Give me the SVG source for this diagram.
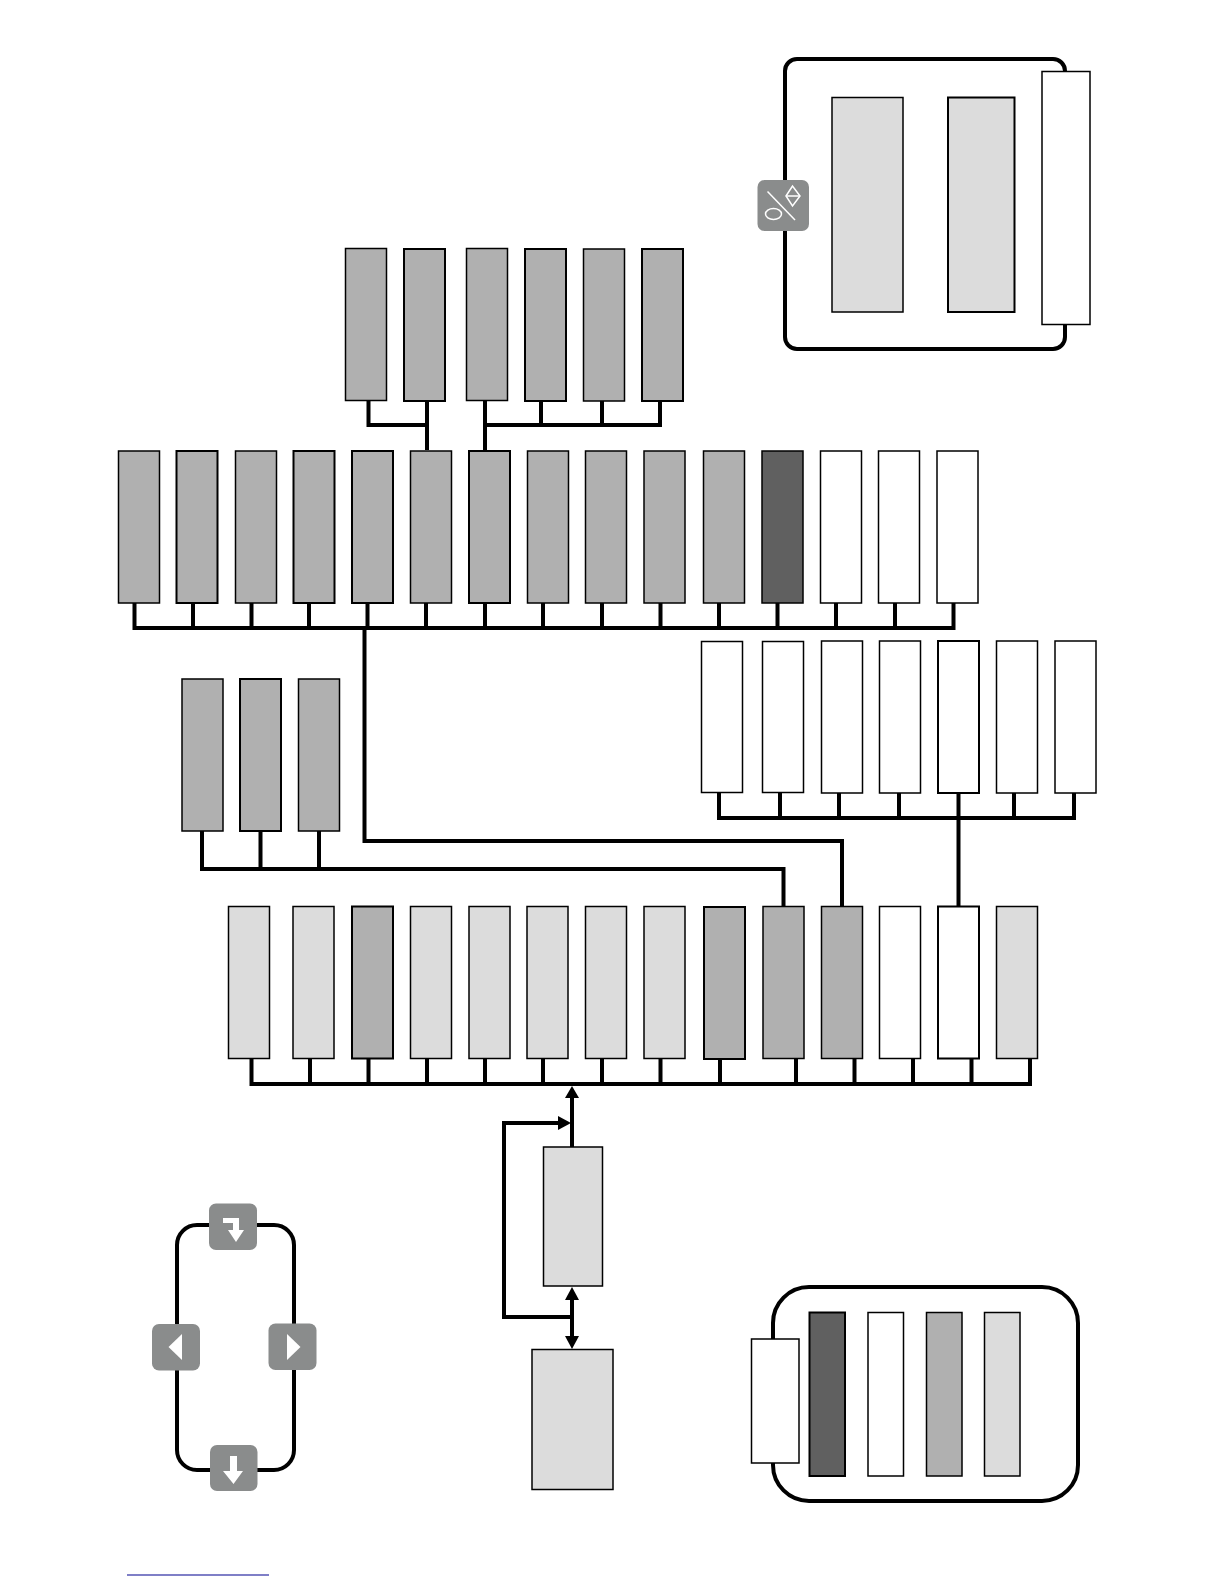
<svg xmlns="http://www.w3.org/2000/svg" width="1224" height="1584" viewBox="0 0 1224 1584">
<style>
.n{stroke:#000;stroke-width:1.5}
.k{stroke-width:2}
.w{fill:#fff}.l{fill:#dcdcdc}.g{fill:#b0b0b0}.d{fill:#606060}
.c{fill:none;stroke:#000;stroke-width:4}
.f{fill:#000}
.b{fill:#8a8c8c}
.i{fill:#fff}
.o{fill:none;stroke:#fff;stroke-width:1.5}
.p{fill:#fff;stroke:#000;stroke-width:4}
</style>
<rect width="1224" height="1584" fill="#fff"/>
<g id="containers">
<rect id="container-top" class="p" x="785" y="59" width="280" height="290" rx="12"/>
<rect id="container-left" class="p" x="177" y="1225" width="117" height="245" rx="20"/>
<rect id="container-bottom" class="p" x="773" y="1287" width="305" height="214" rx="36"/>
</g>
<g id="connectors">
<path class="c" d="M368.500 401V425H427M427 401V450M485 401V450M485 425H660V401M541 401V425M602 401V425"/>
<path class="c" d="M134.500 603V628H953.500V603M193 603V628M251.500 603V628M309 603V628M367.500 603V628M426 603V628M485 603V628M543 603V628M602 603V628M660.500 603V628M719 603V628M777.500 603V628M836 603V628M895 603V628"/>
<path class="c" d="M364.500 628V841H842V906"/>
<path class="c" d="M202 831V869H783.500V906M260.500 831V869M319 831V869"/>
<path class="c" d="M719 793V818H1074V793M780 793V818M839 793V818M899 793V818M1014 793V818"/>
<path class="c" d="M958.500 793V906" stroke-width="5"/>
<path class="c" d="M251.500 1058V1084H1030V1058M310 1058V1084M368.500 1058V1084M427 1058V1084M485 1058V1084M543 1058V1084M602 1058V1084M660.500 1058V1084M720 1058V1084M796 1058V1084M854.500 1058V1084M913 1058V1084M971.500 1058V1084"/>
<path class="c" d="M572 1095V1147"/>
<path class="c" d="M572 1298V1338"/>
<path class="c" d="M558 1123H504V1317H572"/>
<path class="f" d="M572 1086L579 1098H565Z"/>
<path class="f" d="M571 1123L558 1116V1130Z"/>
<path class="f" d="M572 1287L579 1300H565Z"/>
<path class="f" d="M572 1349L579 1336H565Z"/>
</g>
<g id="top-row">
<rect id="t1" class="n g" x="345.500" y="248.500" width="41" height="152"/>
<rect id="t2" class="n k g" x="404" y="249" width="41" height="152"/>
<rect id="t3" class="n g" x="466.500" y="248.500" width="41" height="152"/>
<rect id="t4" class="n k g" x="525" y="249" width="41" height="152"/>
<rect id="t5" class="n g" x="583.500" y="249" width="41" height="152"/>
<rect id="t6" class="n k g" x="642" y="249" width="41" height="152"/>
</g>
<g id="second-row">
<rect id="s1" class="n g" x="118.500" y="451" width="41" height="152"/>
<rect id="s2" class="n k g" x="176.500" y="451" width="41" height="152"/>
<rect id="s3" class="n g" x="235.500" y="451" width="41" height="152"/>
<rect id="s4" class="n k g" x="293.500" y="451" width="41" height="152"/>
<rect id="s5" class="n k g" x="352" y="451" width="41" height="152"/>
<rect id="s6" class="n g" x="410.500" y="451" width="41" height="152"/>
<rect id="s7" class="n k g" x="469" y="451" width="41" height="152"/>
<rect id="s8" class="n g" x="527.500" y="451" width="41" height="152"/>
<rect id="s9" class="n g" x="585.500" y="451" width="41" height="152"/>
<rect id="s10" class="n g" x="644" y="451" width="41" height="152"/>
<rect id="s11" class="n g" x="703.500" y="451" width="41" height="152"/>
<rect id="s12" class="n d" x="762" y="451" width="41" height="152"/>
<rect id="s13" class="n w" x="820.500" y="451" width="41" height="152"/>
<rect id="s14" class="n w" x="878.500" y="451" width="41" height="152"/>
<rect id="s15" class="n w" x="937" y="451" width="41" height="152"/>
</g>
<g id="left-row">
<rect id="l1" class="n g" x="182" y="679" width="41" height="152"/>
<rect id="l2" class="n k g" x="240" y="679" width="41" height="152"/>
<rect id="l3" class="n g" x="298.500" y="679" width="41" height="152"/>
</g>
<g id="right-row">
<rect id="r1" class="n w" x="701.500" y="641.500" width="41" height="151"/>
<rect id="r2" class="n w" x="762.500" y="641.500" width="41" height="151"/>
<rect id="r3" class="n w" x="821.500" y="641" width="41" height="152"/>
<rect id="r4" class="n w" x="879.500" y="641" width="41" height="152"/>
<rect id="r5" class="n k w" x="938" y="641" width="41" height="152"/>
<rect id="r6" class="n w" x="996.500" y="641" width="41" height="152"/>
<rect id="r7" class="n w" x="1055" y="641" width="41" height="152"/>
</g>
<g id="bottom-row">
<rect id="b1" class="n l" x="228.500" y="906.500" width="41" height="152"/>
<rect id="b2" class="n l" x="293" y="906.500" width="41" height="152"/>
<rect id="b3" class="n k g" x="352" y="906.500" width="41" height="152"/>
<rect id="b4" class="n l" x="410.500" y="906.500" width="41" height="152"/>
<rect id="b5" class="n l" x="469" y="906.500" width="41" height="152"/>
<rect id="b6" class="n l" x="527" y="906.500" width="41" height="152"/>
<rect id="b7" class="n l" x="585.500" y="906.500" width="41" height="152"/>
<rect id="b8" class="n l" x="644" y="906.500" width="41" height="152"/>
<rect id="b9" class="n k g" x="704" y="907" width="41" height="152"/>
<rect id="b10" class="n g" x="763" y="906.500" width="41" height="152"/>
<rect id="b11" class="n g" x="821.500" y="906.500" width="41" height="152"/>
<rect id="b12" class="n w" x="879.500" y="906.500" width="41" height="152"/>
<rect id="b13" class="n k w" x="938" y="906.500" width="41" height="152"/>
<rect id="b14" class="n l" x="996.500" y="906.500" width="41" height="152"/>
</g>
<g id="centre">
<rect id="c1" class="n l" x="543.500" y="1147" width="59" height="139"/>
<rect id="c2" class="n l" x="532" y="1349.500" width="81" height="140"/>
</g>
<g id="top-box">
<rect id="a1" class="n l" x="832" y="97.500" width="71" height="214.500"/>
<rect id="a2" class="n k l" x="948" y="97.500" width="66.500" height="214.500"/>
<rect id="a3" class="n w" x="1042" y="71.500" width="48" height="253"/>
<g id="badge-flags">
<rect class="b" x="757.500" y="180" width="51.500" height="51" rx="7"/>
<path class="o" d="M767.500 191.500L795 220"/>
<path class="o" d="M786 196L792.500 186L800 196L792.500 206Z"/>
<path class="o" d="M786 196H800"/>
<ellipse class="o" cx="773.500" cy="214" rx="8" ry="5.500"/>
</g>
</g>
<g id="ring-badges">
<g id="badge-top">
<rect class="b" x="209" y="1203.500" width="48" height="46.500" rx="7"/>
<path class="i" d="M223 1218H239V1230H244L236 1242L228 1230H233V1223H223Z"/>
</g>
<g id="badge-left">
<rect class="b" x="152" y="1324" width="48" height="46.500" rx="7"/>
<path class="i" d="M182 1334V1360L168.500 1347Z"/>
</g>
<g id="badge-right">
<rect class="b" x="268.500" y="1323.500" width="48" height="46.500" rx="7"/>
<path class="i" d="M287 1334V1360L300.500 1347Z"/>
</g>
<g id="badge-bottom">
<rect class="b" x="210" y="1445" width="47.500" height="46" rx="7"/>
<path class="i" d="M230 1456H237V1471H243L233.500 1484L223 1471H230Z"/>
</g>
</g>
<g id="bottom-box">
<rect id="e1" class="n w" x="751.500" y="1339" width="47.500" height="124"/>
<rect id="e2" class="n k d" x="809.500" y="1312.500" width="35.500" height="163.500"/>
<rect id="e3" class="n w" x="868" y="1312.500" width="35.500" height="163.500"/>
<rect id="e4" class="n g" x="926.500" y="1312.500" width="35.500" height="163.500"/>
<rect id="e5" class="n l" x="984.500" y="1312.500" width="35.500" height="163.500"/>
</g>
<rect id="underline" x="127" y="1574.500" width="142" height="1" fill="#000090"/>
</svg>
